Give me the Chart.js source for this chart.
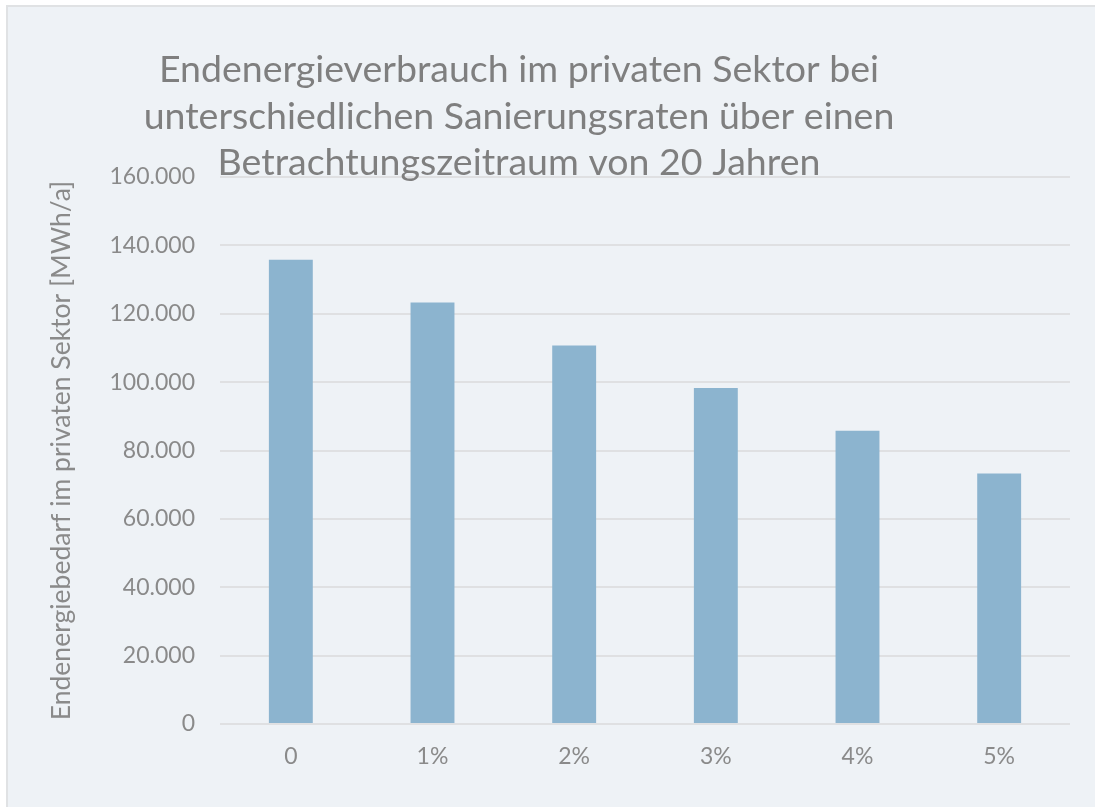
<!DOCTYPE html>
<html>
<head>
<meta charset="utf-8">
<script src="https://cdn.jsdelivr.net/npm/chart.js@4/dist/chart.umd.min.js"></script>
<style>
  html, body { margin: 0; padding: 0; background: #ffffff; }
  #card {
    position: absolute; left: 6px; top: 5px; width: 1095px; height: 810px;
    background: #eef2f6; border-left: 2px solid #e0e2e4; border-top: 2px solid #e0e2e4;
  }
  #wrap { position: absolute; left: 8px; top: 7px; width: 1087px; height: 800px; }
</style>
</head>
<body>
<div id="card"></div>
<div id="wrap"><canvas id="myChart"></canvas></div>
<script>
// Daten
const categories = ["0", "1%", "2%", "3%", "4%", "5%"];
const verbrauch = [135800, 123300, 110700, 98300, 85800, 73300];
const yTicks = [0, 20000, 40000, 60000, 80000, 100000, 120000, 140000, 160000];

const titleLines = [
    "Endenergieverbrauch im privaten Sektor bei",
    "unterschiedlichen Sanierungsraten über einen",
    "Betrachtungszeitraum von 20 Jahren"
];

const fontName = "Lato, 'Noto Sans', sans-serif";

// Titel selbst zeichnen (ragt in den Plotbereich hinein)
const titlePlugin = {
    id: "titleLines",
    afterDraw(chart) {
        const ctx = chart.ctx;
        ctx.save();
        ctx.fillStyle = "#7f7f7f";
        ctx.font = "37.5px " + fontName;
        ctx.textAlign = "center";
        ctx.textBaseline = "alphabetic";
        titleLines.forEach(function (line, i) {
            ctx.fillText(line, 511, 75 + i * 46.5);
        });
        ctx.restore();
    }
};

function fmt(v) {
    return v.toString().replace(/\B(?=(\d{3})+(?!\d))/g, ".");
}

let chartConfig = {
    type: "bar",
    data: {
        labels: categories,
        datasets: [
            {
                data: verbrauch,
                backgroundColor: "#8cb4cf",
                borderWidth: 0,
                barPercentage: 1,
                categoryPercentage: 0.31
            }
        ]
    },
    options: {
        responsive: false,
        animation: false,
        layout: {
            padding: { top: 170, right: 25, left: 0, bottom: 0 }
        },
        plugins: {
            legend: { display: false },
            title: { display: false },
            tooltip: { enabled: false }
        },
        scales: {
            x: {
                grid: { display: false, drawTicks: false },
                border: { display: false },
                ticks: {
                    color: "#8a8a8a",
                    font: { family: fontName, size: 23 },
                    padding: 19
                },
                afterFit: function (scale) { scale.height = 83; }
            },
            y: {
                min: 0,
                max: 160000,
                afterBuildTicks: function (scale) {
                    scale.ticks = yTicks.map(function (v) { return { value: v }; });
                },
                grid: { color: "#dfe0e2", lineWidth: 2, drawTicks: false },
                border: { display: false },
                ticks: {
                    color: "#8a8a8a",
                    font: { family: fontName, size: 23 },
                    padding: 25,
                    callback: function (v) { return fmt(v); }
                },
                title: {
                    display: true,
                    text: "Endenergiebedarf im privaten Sektor [MWh/a]",
                    color: "#8a8a8a",
                    font: { family: fontName, size: 26.5 },
                    padding: { top: 38, bottom: 0 }
                },
                afterFit: function (scale) { scale.width = 212; }
            }
        }
    },
    plugins: [titlePlugin]
};

const canvas = document.getElementById("myChart");
canvas.width = 1087;
canvas.height = 800;
new Chart(canvas, chartConfig);
</script>
</body>
</html>
